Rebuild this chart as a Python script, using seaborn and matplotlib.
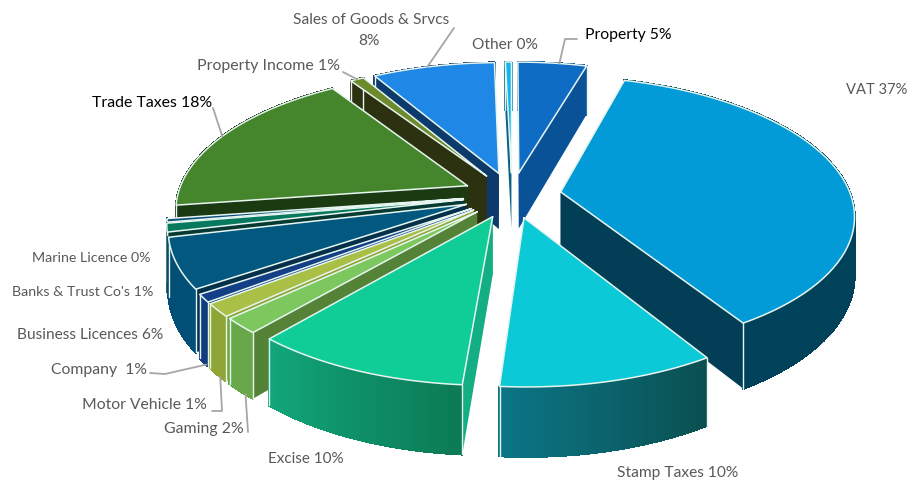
import numpy as np
import seaborn as sns
import matplotlib
import matplotlib.pyplot as plt
from matplotlib.collections import PolyCollection

matplotlib.use("Agg")

# share of revenue, clockwise from twelve o'clock
names = ["Property", "VAT", "Stamp Taxes", "Excise", "Gaming", "Motor Vehicle",
         "Company", "Business Licences", "Banks", "Marine Licence",
         "Trade Taxes", "Property Income", "Sales", "Other"]
shares = [4.5, 36.7, 10.0, 10.1, 1.8, 1.5, 0.9, 5.8, 1.0, 0.4, 18.0, 0.9, 8.0, 0.4]

top_colors = ["#0e6cc4", "#029bd7", "#0bc9d6", "#10cc97", "#7cc85f", "#a9bf45",
              "#123f85", "#02587f", "#07795f", "#0a4f7a", "#45852c", "#6d8a2c",
              "#1f88e6", "#12b5ee"]
wall_left = ["#0a5298", "#01425b", "#0b7585", "#12a67a", "#68a84a", "#8fa535",
             "#0f3e80", "#034d73", "#053a33", "#06304f", "#1b3a12", "#2c3210",
             "#0c3a6a", "#0c6f95"]
wall_right = ["#0a5298", "#01425b", "#0a4f50", "#0c7a55", "#68a84a", "#8fa535",
              "#0f3e80", "#025078", "#053a33", "#06304f", "#1b3a12", "#2c3210",
              "#0c3a6a", "#0c6f95"]
side_colors = ["#0a5298", "#023f57", "#0a4f50", "#14ae84", "#548236", "#8fa535",
               "#0f3e80", "#04304a", "#053a33", "#06304f", "#1b3a12", "#2c3210",
               "#0c3a6a", "#0c5f85"]

label_text = [
    ("Property 5%", 585, 35, "left", "black", 11.3),
    ("VAT 37%", 846, 90, "left", "#595959", 10.6),
    ("Stamp Taxes 10%", 678, 473, "center", "#595959", 11.2),
    ("Excise 10%", 306, 459, "center", "#595959", 11.0),
    ("Gaming 2%", 244, 429, "right", "#595959", 11.4),
    ("Motor Vehicle 1%", 207, 405, "right", "#595959", 11.3),
    ("Company  1%", 147, 370, "right", "#595959", 11.3),
    ("Business Licences 6%", 163, 335, "right", "#595959", 11.2),
    ("Banks & Trust Co's 1%", 153, 292, "right", "#595959", 10.3),
    ("Marine Licence 0%", 151, 258, "right", "#595959", 10.3),
    ("Trade Taxes 18%", 92, 103, "left", "black", 11.4),
    ("Property Income 1%", 197, 66, "left", "#595959", 11.4),
    ("Sales of Goods & Srvcs", 371, 20, "center", "#595959", 11.2),
    ("8%", 369, 41, "center", "#595959", 11.2),
    ("Other 0%", 505, 45, "center", "#595959", 11.2),
]

# leader: slice index, point on the slice rim (0-1 along arc), wall depth, free end
leaders = [
    (0, 0.6, 0, [(565, 39), (577, 39)]),
    (12, 0.45, 0, [(454, 28)]),
    (11, 0.5, 0, [(343, 72)]),
    (10, 0.49, 0, [(213, 108)]),
    (6, 0.2, 1, [(165, 374), (150, 373)]),
    (5, 0.35, 1, [(222, 411), (212, 411)]),
    (4, 0.3, 1, [(248, 432)]),
]

CX, CY = 512, 195
RADIUS = 290
FLAT = 134.6
PERSP = 0.157
DEPTH = 57
EXPLODE = 0.17


def project(x, v, z=0.0):
    """x is right, v is towards the viewer, z is depth below the top face."""
    s = 1 / (1 - PERSP * v)
    return CX + RADIUS * x * s, CY + FLAT * v * s + DEPTH * z * s


def wedge_ring(a0, a1, off_x, off_v, n=60):
    t = np.radians(np.linspace(a0, a1, n))
    return np.sin(t) + off_x, -np.cos(t) + off_v


def draw_slice(ax, a0, a1, i):
    mid = np.radians((a0 + a1) / 2)
    off_x, off_v = EXPLODE * np.sin(mid), -EXPLODE * np.cos(mid)
    rx, rv = wedge_ring(a0, a1, off_x, off_v)
    edge = "#e6f5f0"

    # radial walls
    for ex, ev in ((rx[0], rv[0]), (rx[-1], rv[-1])):
        px, py = zip(project(off_x, off_v), project(ex, ev),
                     project(ex, ev, 1), project(off_x, off_v, 1))
        ax.fill(px, py, color=side_colors[i], lw=0, zorder=i_order[i])

    # rim wall, shaded along the arc
    tx, ty = project(rx, rv)
    bx, by = project(rx, rv, 1)
    shades = sns.blend_palette([wall_left[i], wall_right[i]], len(rx) - 1)[::-1]
    polys = [[(tx[k], ty[k]), (tx[k + 1], ty[k + 1]), (bx[k + 1], by[k + 1]), (bx[k], by[k])]
             for k in range(len(rx) - 1)]
    ax.add_collection(PolyCollection(polys, facecolors=shades, edgecolors=shades, lw=1.0,
                                     antialiaseds=False, zorder=i_order[i]))
    for k in (0, -1):
        ax.plot([tx[k], bx[k]], [ty[k], by[k]], color=edge, lw=1.0, zorder=i_order[i])

    # top face
    cx0, cy0 = project(off_x, off_v)
    ax.fill(np.r_[cx0, tx], np.r_[cy0, ty], color=top_colors[i], lw=0, zorder=i_order[i])
    ax.plot(np.r_[cx0, tx, cx0], np.r_[cy0, ty, cy0], color=edge, lw=1.1, zorder=i_order[i],
            solid_joinstyle="round")


def rim_point(a0, a1, frac, z):
    mid = np.radians((a0 + a1) / 2)
    t = np.radians(a0 + (a1 - a0) * frac)
    return project(np.sin(t) + EXPLODE * np.sin(mid), -np.cos(t) - EXPLODE * np.cos(mid), z)


sns.set_theme(style="white")
plt.rcParams["font.family"] = ["Lato", "DejaVu Sans"]

fig, ax = plt.subplots(figsize=(9.07, 4.82), dpi=100)
ax.set_position([0, 0, 1, 1])
ax.set_xlim(0, 907)
ax.set_ylim(482, 0)
ax.axis("off")

angles = np.r_[0, np.cumsum(shares)] / np.sum(shares) * 360
mids = (angles[:-1] + angles[1:]) / 2
# paint from the back of the pie to the front
i_order = {i: 2 + rank for rank, i in enumerate(np.argsort(-np.cos(np.radians(mids))))}

for i in range(len(names)):
    draw_slice(ax, angles[i], angles[i + 1], i)

for i, frac, z, free in leaders:
    start = rim_point(angles[i], angles[i + 1], frac, z)
    xs, ys = zip(start, *free)
    ax.plot(xs, ys, color="#a6a6a6", lw=1.3, zorder=30)

for text, x, y, ha, color, size in label_text:
    ax.text(x, y, text, ha=ha, va="center", color=color, fontsize=size, zorder=31)

fig.savefig("out.png", dpi=100)
